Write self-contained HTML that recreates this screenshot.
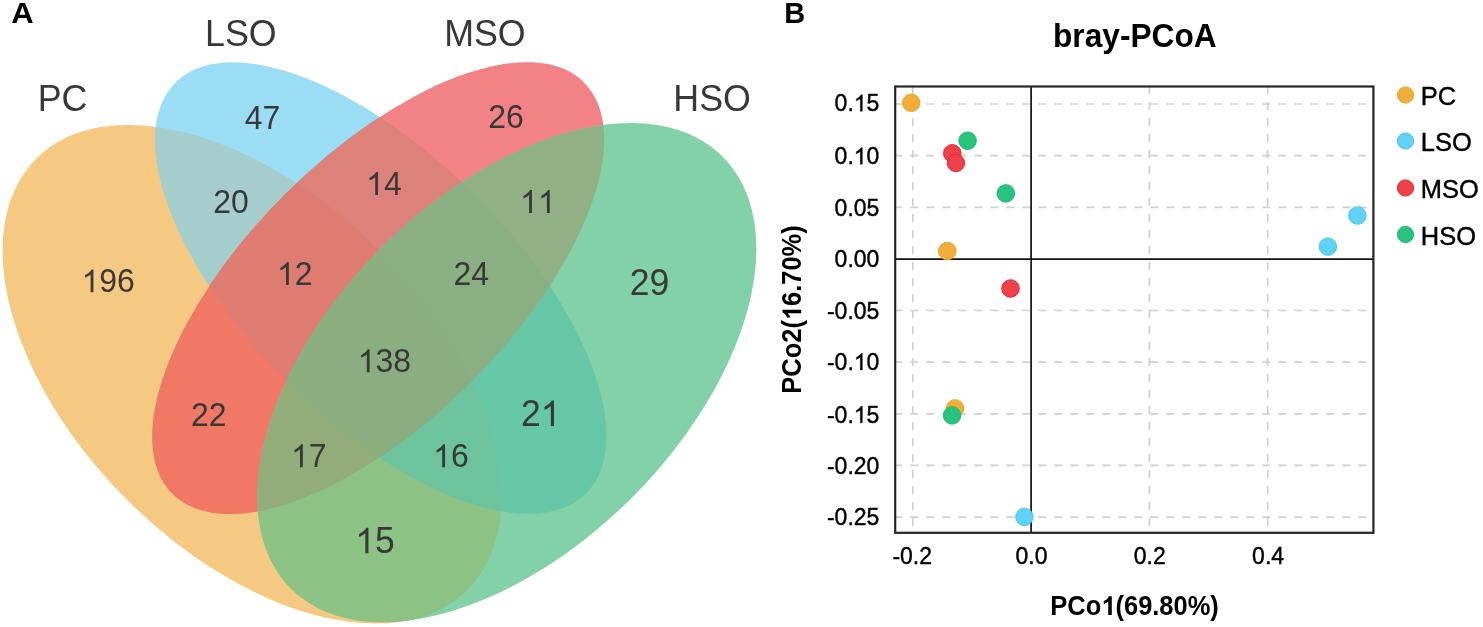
<!DOCTYPE html><html><head><meta charset="utf-8"><title>Venn and PCoA</title><style>html,body{margin:0;padding:0;background:#fff;overflow:hidden;}svg{display:block;will-change:transform;}text{font-family:"Liberation Sans",sans-serif;white-space:pre;}</style></head><body>
<svg width="1483" height="627" viewBox="0 0 1483 627">
<rect x="0" y="0" width="1483" height="627" fill="#fff"/>
<defs>
<clipPath id="cPC"><ellipse cx="251.93" cy="374.25" rx="304.93" ry="177.1" transform="rotate(45 251.93 374.25)"/></clipPath>
<clipPath id="cLSO"><ellipse cx="380.7" cy="288.06" rx="290.42" ry="132.49" transform="rotate(45 380.7 288.06)"/></clipPath>
<clipPath id="cMSO"><ellipse cx="378.24" cy="288.11" rx="290.92" ry="132.13" transform="rotate(-45 378.24 288.11)"/></clipPath>
<clipPath id="cHSO"><ellipse cx="506.82" cy="372.64" rx="305.36" ry="176.88" transform="rotate(-45 506.82 372.64)"/></clipPath>
</defs>
<g id="venn">
<ellipse cx="251.93" cy="374.25" rx="304.93" ry="177.1" transform="rotate(45 251.93 374.25)" fill="rgb(246, 201, 131)"/>
<ellipse cx="380.7" cy="288.06" rx="290.42" ry="132.49" transform="rotate(45 380.7 288.06)" fill="rgb(155, 221, 244)"/>
<g clip-path="url(#cPC)"><ellipse cx="380.7" cy="288.06" rx="290.42" ry="132.49" transform="rotate(45 380.7 288.06)" fill="rgb(165, 205, 204)"/></g>
<ellipse cx="378.24" cy="288.11" rx="290.92" ry="132.13" transform="rotate(-45 378.24 288.11)" fill="rgb(242, 130, 134)"/>
<g clip-path="url(#cPC)"><ellipse cx="378.24" cy="288.11" rx="290.92" ry="132.13" transform="rotate(-45 378.24 288.11)" fill="rgb(240, 120, 100)"/></g>
<g clip-path="url(#cLSO)"><ellipse cx="378.24" cy="288.11" rx="290.92" ry="132.13" transform="rotate(-45 378.24 288.11)" fill="rgb(221, 129, 123)"/></g>
<g clip-path="url(#cLSO)"><g clip-path="url(#cPC)"><ellipse cx="378.24" cy="288.11" rx="290.92" ry="132.13" transform="rotate(-45 378.24 288.11)" fill="rgb(223, 124, 114)"/></g></g>
<ellipse cx="506.82" cy="372.64" rx="305.36" ry="176.88" transform="rotate(-45 506.82 372.64)" fill="rgb(130, 209, 168)"/>
<g clip-path="url(#cPC)"><ellipse cx="506.82" cy="372.64" rx="305.36" ry="176.88" transform="rotate(-45 506.82 372.64)" fill="rgb(140, 195, 133)"/></g>
<g clip-path="url(#cLSO)"><ellipse cx="506.82" cy="372.64" rx="305.36" ry="176.88" transform="rotate(-45 506.82 372.64)" fill="rgb(101, 199, 165)"/></g>
<g clip-path="url(#cMSO)"><ellipse cx="506.82" cy="372.64" rx="305.36" ry="176.88" transform="rotate(-45 506.82 372.64)" fill="rgb(146, 176, 133)"/></g>
<g clip-path="url(#cLSO)"><g clip-path="url(#cPC)"><ellipse cx="506.82" cy="372.64" rx="305.36" ry="176.88" transform="rotate(-45 506.82 372.64)" fill="rgb(108, 195, 157)"/></g></g>
<g clip-path="url(#cMSO)"><g clip-path="url(#cPC)"><ellipse cx="506.82" cy="372.64" rx="305.36" ry="176.88" transform="rotate(-45 506.82 372.64)" fill="rgb(146, 173, 122)"/></g></g>
<g clip-path="url(#cMSO)"><g clip-path="url(#cLSO)"><ellipse cx="506.82" cy="372.64" rx="305.36" ry="176.88" transform="rotate(-45 506.82 372.64)" fill="rgb(138, 175, 131)"/></g></g>
<g clip-path="url(#cMSO)"><g clip-path="url(#cLSO)"><g clip-path="url(#cPC)"><ellipse cx="506.82" cy="372.64" rx="305.36" ry="176.88" transform="rotate(-45 506.82 372.64)" fill="rgb(139, 174, 128)"/></g></g></g>
</g>
<g id="vtext">
<g transform="translate(108.20 292.33)"><path d="M763,0L583,0L583,1147Q518,1085 415,1024.5Q312,964 223,931L223,1105Q374,1176 486.5,1276.5Q599,1377 646,1466L763,1466Z" transform="translate(-26.70 0) scale(0.01562 -0.01562)" fill="#383838" vector-effect="non-scaling-stroke"/><text x="-8.90" y="0" transform="scale(1 1.0405)" font-size="32" fill="#383838">96</text></g>
<g transform="translate(262.50 128.95)"><text x="-17.80" y="0" transform="scale(1 1.0405)" font-size="32" fill="#383838">47</text></g>
<g transform="translate(506.10 128.40)"><text x="-17.80" y="0" transform="scale(1 1.0405)" font-size="32" fill="#383838">26</text></g>
<g transform="translate(231.10 213.00)"><text x="-17.80" y="0" transform="scale(1 1.0405)" font-size="32" fill="#383838">20</text></g>
<g transform="translate(383.90 194.90)"><path d="M763,0L583,0L583,1147Q518,1085 415,1024.5Q312,964 223,931L223,1105Q374,1176 486.5,1276.5Q599,1377 646,1466L763,1466Z" transform="translate(-17.80 0) scale(0.01562 -0.01562)" fill="#383838" vector-effect="non-scaling-stroke"/><text x="0.00" y="0" transform="scale(1 1.0405)" font-size="32" fill="#383838">4</text></g>
<g transform="translate(537.80 213.00)"><path d="M763,0L583,0L583,1147Q518,1085 415,1024.5Q312,964 223,931L223,1105Q374,1176 486.5,1276.5Q599,1377 646,1466L763,1466Z" transform="translate(-17.80 0) scale(0.01562 -0.01562)" fill="#383838" vector-effect="non-scaling-stroke"/><path d="M763,0L583,0L583,1147Q518,1085 415,1024.5Q312,964 223,931L223,1105Q374,1176 486.5,1276.5Q599,1377 646,1466L763,1466Z" transform="translate(0.00 0) scale(0.01562 -0.01562)" fill="#383838" vector-effect="non-scaling-stroke"/></g>
<g transform="translate(294.70 284.90)"><path d="M763,0L583,0L583,1147Q518,1085 415,1024.5Q312,964 223,931L223,1105Q374,1176 486.5,1276.5Q599,1377 646,1466L763,1466Z" transform="translate(-17.80 0) scale(0.01562 -0.01562)" fill="#383838" vector-effect="non-scaling-stroke"/><text x="0.00" y="0" transform="scale(1 1.0405)" font-size="32" fill="#383838">2</text></g>
<g transform="translate(471.28 284.90)"><text x="-17.80" y="0" transform="scale(1 1.0405)" font-size="32" fill="#383838">24</text></g>
<g transform="translate(384.40 372.20)"><path d="M763,0L583,0L583,1147Q518,1085 415,1024.5Q312,964 223,931L223,1105Q374,1176 486.5,1276.5Q599,1377 646,1466L763,1466Z" transform="translate(-26.70 0) scale(0.01562 -0.01562)" fill="#383838" vector-effect="non-scaling-stroke"/><text x="-8.90" y="0" transform="scale(1 1.0405)" font-size="32" fill="#383838">38</text></g>
<g transform="translate(208.70 426.45)"><text x="-17.80" y="0" transform="scale(1 1.0405)" font-size="32" fill="#383838">22</text></g>
<g transform="translate(308.70 467.15)"><path d="M763,0L583,0L583,1147Q518,1085 415,1024.5Q312,964 223,931L223,1105Q374,1176 486.5,1276.5Q599,1377 646,1466L763,1466Z" transform="translate(-17.80 0) scale(0.01562 -0.01562)" fill="#383838" vector-effect="non-scaling-stroke"/><text x="0.00" y="0" transform="scale(1 1.0405)" font-size="32" fill="#383838">7</text></g>
<g transform="translate(450.90 467.15)"><path d="M763,0L583,0L583,1147Q518,1085 415,1024.5Q312,964 223,931L223,1105Q374,1176 486.5,1276.5Q599,1377 646,1466L763,1466Z" transform="translate(-17.80 0) scale(0.01562 -0.01562)" fill="#383838" vector-effect="non-scaling-stroke"/><text x="0.00" y="0" transform="scale(1 1.0405)" font-size="32" fill="#383838">6</text></g>
<g transform="translate(649.60 294.85)"><text x="-19.80" y="0" transform="scale(1 1.0405)" font-size="35.6" fill="#383838">29</text></g>
<g transform="translate(540.70 426.05)"><text x="-19.80" y="0" transform="scale(1 1.0405)" font-size="35.6" fill="#383838">2</text><path d="M763,0L583,0L583,1147Q518,1085 415,1024.5Q312,964 223,931L223,1105Q374,1176 486.5,1276.5Q599,1377 646,1466L763,1466Z" transform="translate(0.00 0) scale(0.01738 -0.01738)" fill="#383838" vector-effect="non-scaling-stroke"/></g>
<g transform="translate(375.00 553.16)"><path d="M763,0L583,0L583,1147Q518,1085 415,1024.5Q312,964 223,931L223,1105Q374,1176 486.5,1276.5Q599,1377 646,1466L763,1466Z" transform="translate(-19.80 0) scale(0.01738 -0.01738)" fill="#383838" vector-effect="non-scaling-stroke"/><text x="0.00" y="0" transform="scale(1 1.0405)" font-size="35.6" fill="#383838">5</text></g>
<g transform="translate(62.60 110.87)"><text x="-24.87" y="0" transform="scale(1 1.0405)" font-size="35.8" fill="#383838">PC</text></g>
<g transform="translate(240.80 45.77)"><text x="-35.82" y="0" transform="scale(1 1.0405)" font-size="35.8" fill="#383838">LSO</text></g>
<g transform="translate(484.90 45.77)"><text x="-40.77" y="0" transform="scale(1 1.0405)" font-size="35.8" fill="#383838">MSO</text></g>
<g transform="translate(712.10 110.65)"><text x="-38.79" y="0" transform="scale(1 1.0405)" font-size="35.8" fill="#383838">HSO</text></g>
</g>
<g transform="translate(22.45 23.32) scale(1.07 1)"><text x="-10.47" y="0" transform="scale(1 1.0405)" font-size="29" font-weight="bold" fill="#000">A</text></g>
<g transform="translate(794.63 23.32)"><text x="-10.47" y="0" transform="scale(1 1.0405)" font-size="29" font-weight="bold" fill="#000">B</text></g>
<g id="grid" stroke="#d0d0d0" stroke-width="1.7" stroke-dasharray="8 8" fill="none">
<line x1="895.2" y1="104.0" x2="1373.45" y2="104.0" stroke-dashoffset="1"/>
<line x1="895.2" y1="155.6" x2="1373.45" y2="155.6" stroke-dashoffset="1"/>
<line x1="895.2" y1="207.3" x2="1373.45" y2="207.3" stroke-dashoffset="1"/>
<line x1="895.2" y1="310.5" x2="1373.45" y2="310.5" stroke-dashoffset="1"/>
<line x1="895.2" y1="362.2" x2="1373.45" y2="362.2" stroke-dashoffset="1"/>
<line x1="895.2" y1="413.8" x2="1373.45" y2="413.8" stroke-dashoffset="1"/>
<line x1="895.2" y1="465.4" x2="1373.45" y2="465.4" stroke-dashoffset="1"/>
<line x1="895.2" y1="517.1" x2="1373.45" y2="517.1" stroke-dashoffset="1"/>
<line x1="912.8" y1="86.5" x2="912.8" y2="532.8" stroke-dashoffset="0.5"/>
<line x1="1149.4" y1="86.5" x2="1149.4" y2="532.8" stroke-dashoffset="0.5"/>
<line x1="1267.7" y1="86.5" x2="1267.7" y2="532.8" stroke-dashoffset="0.5"/>
</g>
<line x1="895.2" y1="259.05" x2="1373.45" y2="259.05" stroke="#111" stroke-width="1.7"/>
<line x1="1031.1" y1="86.5" x2="1031.1" y2="532.8" stroke="#111" stroke-width="1.7"/>
<rect x="895.2" y="86.5" width="478.2" height="446.3" fill="none" stroke="#262626" stroke-width="2.2"/>
<g id="pts">
<circle cx="911.2" cy="102.8" r="8.77" fill="#F0AF3C" stroke="#F2A522" stroke-width="1"/>
<circle cx="947.3" cy="251.0" r="8.77" fill="#F0AF3C" stroke="#F2A522" stroke-width="1"/>
<circle cx="1357.4" cy="215.5" r="8.77" fill="#5FD2F5" stroke="#48C8F0" stroke-width="1"/>
<circle cx="1327.9" cy="246.6" r="8.77" fill="#5FD2F5" stroke="#48C8F0" stroke-width="1"/>
<circle cx="1024.4" cy="516.9" r="8.77" fill="#5FD2F5" stroke="#48C8F0" stroke-width="1"/>
<circle cx="952.3" cy="153.3" r="8.77" fill="#EE4148" stroke="#EA2638" stroke-width="1"/>
<circle cx="955.9" cy="162.9" r="8.77" fill="#EE4148" stroke="#EA2638" stroke-width="1"/>
<circle cx="1010.5" cy="288.5" r="8.77" fill="#EE4148" stroke="#EA2638" stroke-width="1"/>
<circle cx="967.6" cy="140.7" r="8.77" fill="#28C37D" stroke="#1EB96E" stroke-width="1"/>
<circle cx="1005.8" cy="193.4" r="8.77" fill="#28C37D" stroke="#1EB96E" stroke-width="1"/>
<circle cx="955.1" cy="408.4" r="8.77" fill="#F0AF3C" stroke="#F2A522" stroke-width="1"/>
<circle cx="952.1" cy="415.4" r="8.77" fill="#28C37D" stroke="#1EB96E" stroke-width="1"/>
</g>
<g stroke="#000" stroke-width="0.4" transform="translate(879.35 111.30)"><text x="-44.76" y="0" transform="scale(1 1.0405)" font-size="23" fill="#000">0.</text><path d="M763,0L583,0L583,1147Q518,1085 415,1024.5Q312,964 223,931L223,1105Q374,1176 486.5,1276.5Q599,1377 646,1466L763,1466Z" transform="translate(-25.58 0) scale(0.01123 -0.01123)" fill="#000" vector-effect="non-scaling-stroke"/><text x="-12.79" y="0" transform="scale(1 1.0405)" font-size="23" fill="#000">5</text></g>
<g stroke="#000" stroke-width="0.4" transform="translate(879.35 164.20)"><text x="-44.76" y="0" transform="scale(1 1.0405)" font-size="23" fill="#000">0.</text><path d="M763,0L583,0L583,1147Q518,1085 415,1024.5Q312,964 223,931L223,1105Q374,1176 486.5,1276.5Q599,1377 646,1466L763,1466Z" transform="translate(-25.58 0) scale(0.01123 -0.01123)" fill="#000" vector-effect="non-scaling-stroke"/><text x="-12.79" y="0" transform="scale(1 1.0405)" font-size="23" fill="#000">0</text></g>
<g stroke="#000" stroke-width="0.4" transform="translate(879.35 216.00)"><text x="-44.76" y="0" transform="scale(1 1.0405)" font-size="23" fill="#000">0.05</text></g>
<g stroke="#000" stroke-width="0.4" transform="translate(879.35 267.20)"><text x="-44.76" y="0" transform="scale(1 1.0405)" font-size="23" fill="#000">0.00</text></g>
<g stroke="#000" stroke-width="0.4" transform="translate(879.35 319.05)"><text x="-52.42" y="0" transform="scale(1 1.0405)" font-size="23" fill="#000">-0.05</text></g>
<g stroke="#000" stroke-width="0.4" transform="translate(879.35 369.95)"><text x="-52.42" y="0" transform="scale(1 1.0405)" font-size="23" fill="#000">-0.</text><path d="M763,0L583,0L583,1147Q518,1085 415,1024.5Q312,964 223,931L223,1105Q374,1176 486.5,1276.5Q599,1377 646,1466L763,1466Z" transform="translate(-25.58 0) scale(0.01123 -0.01123)" fill="#000" vector-effect="non-scaling-stroke"/><text x="-12.79" y="0" transform="scale(1 1.0405)" font-size="23" fill="#000">0</text></g>
<g stroke="#000" stroke-width="0.4" transform="translate(879.35 422.80)"><text x="-52.42" y="0" transform="scale(1 1.0405)" font-size="23" fill="#000">-0.</text><path d="M763,0L583,0L583,1147Q518,1085 415,1024.5Q312,964 223,931L223,1105Q374,1176 486.5,1276.5Q599,1377 646,1466L763,1466Z" transform="translate(-25.58 0) scale(0.01123 -0.01123)" fill="#000" vector-effect="non-scaling-stroke"/><text x="-12.79" y="0" transform="scale(1 1.0405)" font-size="23" fill="#000">5</text></g>
<g stroke="#000" stroke-width="0.4" transform="translate(879.35 473.80)"><text x="-52.42" y="0" transform="scale(1 1.0405)" font-size="23" fill="#000">-0.20</text></g>
<g stroke="#000" stroke-width="0.4" transform="translate(879.35 524.80)"><text x="-52.42" y="0" transform="scale(1 1.0405)" font-size="23" fill="#000">-0.25</text></g>
<g stroke="#000" stroke-width="0.4" transform="translate(912.20 564.33)"><text x="-19.82" y="0" transform="scale(1 1.0405)" font-size="23" fill="#000">-0.2</text></g>
<g stroke="#000" stroke-width="0.4" transform="translate(1031.50 564.33)"><text x="-15.99" y="0" transform="scale(1 1.0405)" font-size="23" fill="#000">0.0</text></g>
<g stroke="#000" stroke-width="0.4" transform="translate(1149.80 564.33)"><text x="-15.99" y="0" transform="scale(1 1.0405)" font-size="23" fill="#000">0.2</text></g>
<g stroke="#000" stroke-width="0.4" transform="translate(1268.10 564.33)"><text x="-15.99" y="0" transform="scale(1 1.0405)" font-size="23" fill="#000">0.4</text></g>
<g transform="translate(1134.85 46.63)"><text x="-81.90" y="0" transform="scale(1 1.0405)" font-size="31.7" font-weight="bold" fill="#000">bray-PCoA</text></g>
<g transform="translate(1134.60 614.95) scale(0.98 1)"><text x="-85.98" y="0" transform="scale(1 1.0405)" font-size="26" font-weight="bold" fill="#000">PCo</text><path d="M841,0L560,0L560,1059Q485,989 389,935Q293,881 200,851L200,1107Q327,1148 444,1243Q561,1338 609,1466L841,1466Z" transform="translate(-33.98 0) scale(0.01270 -0.01270)" fill="#000" vector-effect="non-scaling-stroke"/><text x="-19.52" y="0" transform="scale(1 1.0405)" font-size="26" font-weight="bold" fill="#000">(69.80%)</text></g>
<g transform="translate(801.15 309.47) rotate(-90) scale(0.98 1)"><text x="-85.98" y="0" transform="scale(1 1.0405)" font-size="26" font-weight="bold" fill="#000">PCo2(</text><path d="M841,0L560,0L560,1059Q485,989 389,935Q293,881 200,851L200,1107Q327,1148 444,1243Q561,1338 609,1466L841,1466Z" transform="translate(-10.86 0) scale(0.01270 -0.01270)" fill="#000" vector-effect="non-scaling-stroke"/><text x="3.60" y="0" transform="scale(1 1.0405)" font-size="26" font-weight="bold" fill="#000">6.70%)</text></g>
<circle cx="1405.5" cy="95.0" r="8.1" fill="#F0AF3C" stroke="#F2A522" stroke-width="1"/>
<g stroke="#000" stroke-width="0.4" transform="translate(1420.85 105.15)"><text x="0.00" y="0" transform="scale(1 1.0405)" font-size="25.5" fill="#000">PC</text></g>
<circle cx="1405.5" cy="141.0" r="8.1" fill="#5FD2F5" stroke="#48C8F0" stroke-width="1"/>
<g stroke="#000" stroke-width="0.4" transform="translate(1420.85 151.15)"><text x="0.00" y="0" transform="scale(1 1.0405)" font-size="25.5" fill="#000">LSO</text></g>
<circle cx="1405.5" cy="188.0" r="8.1" fill="#EE4148" stroke="#EA2638" stroke-width="1"/>
<g stroke="#000" stroke-width="0.4" transform="translate(1420.85 198.15)"><text x="0.00" y="0" transform="scale(1 1.0405)" font-size="25.5" fill="#000">MSO</text></g>
<circle cx="1405.5" cy="234.5" r="8.1" fill="#28C37D" stroke="#1EB96E" stroke-width="1"/>
<g stroke="#000" stroke-width="0.4" transform="translate(1420.85 244.65)"><text x="0.00" y="0" transform="scale(1 1.0405)" font-size="25.5" fill="#000">HSO</text></g>
</svg></body></html>
